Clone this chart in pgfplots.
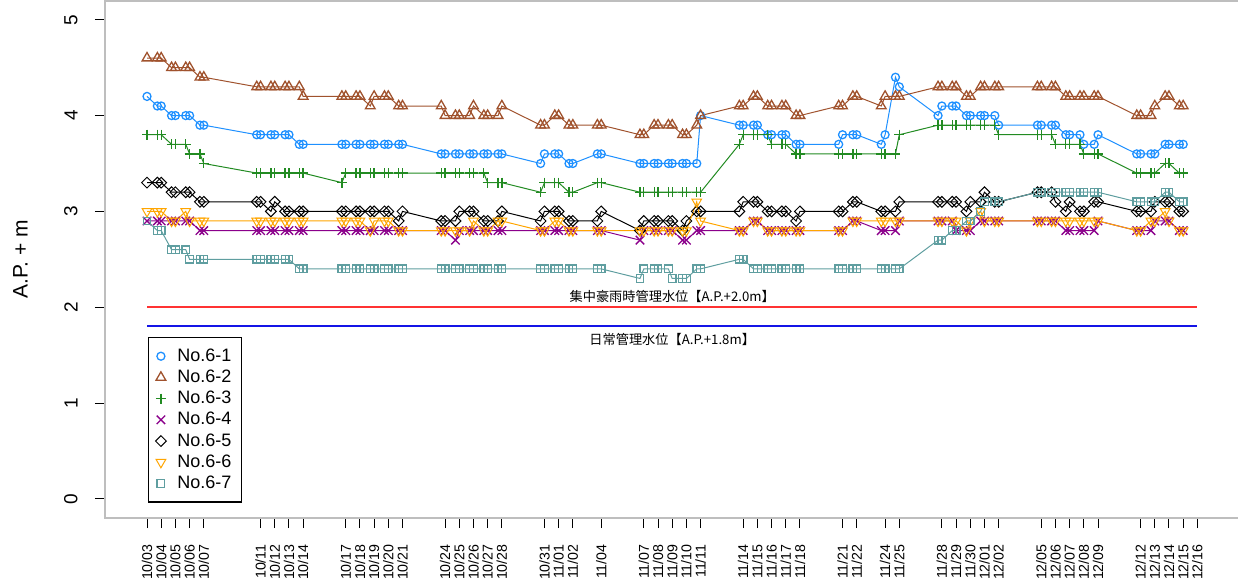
\documentclass[border=0pt]{standalone}
\usepackage{pgfplots}
\pgfplotsset{compat=1.18}
\usepackage{pgfplotstable}
\usepackage{fontspec}
\setmainfont{Liberation Sans}
\newfontfamily\cjk{Noto Sans CJK JP}

\definecolor{c1}{RGB}{30,144,255}
\definecolor{c2}{RGB}{160,82,45}
\definecolor{c3}{RGB}{34,139,34}
\definecolor{c4}{RGB}{139,0,139}
\definecolor{c5}{RGB}{0,0,0}
\definecolor{c6}{RGB}{255,165,0}
\definecolor{c7}{RGB}{95,158,160}
\definecolor{boxgray}{RGB}{190,190,190}
\definecolor{linered}{RGB}{255,50,50}
\definecolor{lineblue}{RGB}{20,20,230}

% x = days since 10/03, two readings a day
\pgfplotstableread{
x s1 s2 s3 s4 s5 s6 s7
0 4.2 4.6 3.8 2.9 3.3 3.0 2.9
0.73 4.1 4.6 3.8 2.9 3.3 3.0 2.8
1 4.1 4.6 3.8 2.9 3.3 3.0 2.8
1.73 4.0 4.5 3.7 2.9 3.2 2.9 2.6
2 4.0 4.5 3.7 2.9 3.2 2.9 2.6
2.73 4.0 4.5 3.7 2.9 3.2 3.0 2.6
3 4.0 4.5 3.6 2.9 3.2 2.9 2.5
3.73 3.9 4.4 3.6 2.8 3.1 2.9 2.5
4 3.9 4.4 3.5 2.8 3.1 2.9 2.5
7.73 3.8 4.3 3.4 2.8 3.1 2.9 2.5
8 3.8 4.3 3.4 2.8 3.1 2.9 2.5
8.73 3.8 4.3 3.4 2.8 3.0 2.9 2.5
9 3.8 4.3 3.4 2.8 3.1 2.9 2.5
9.73 3.8 4.3 3.4 2.8 3.0 2.9 2.5
10 3.8 4.3 3.4 2.8 3.0 2.9 2.5
10.73 3.7 4.3 3.4 2.8 3.0 2.9 2.4
11 3.7 4.2 3.4 2.8 3.0 2.9 2.4
13.73 3.7 4.2 3.3 2.8 3.0 2.9 2.4
14 3.7 4.2 3.4 2.8 3.0 2.9 2.4
14.73 3.7 4.2 3.4 2.8 3.0 2.9 2.4
15 3.7 4.2 3.4 2.8 3.0 2.9 2.4
15.73 3.7 4.1 3.4 2.8 3.0 2.8 2.4
16 3.7 4.2 3.4 2.8 3.0 2.9 2.4
16.73 3.7 4.2 3.4 2.8 3.0 2.9 2.4
17 3.7 4.2 3.4 2.8 3.0 2.9 2.4
17.73 3.7 4.1 3.4 2.8 2.9 2.8 2.4
18 3.7 4.1 3.4 2.8 3.0 2.8 2.4
20.73 3.6 4.1 3.4 2.8 2.9 2.8 2.4
21 3.6 4.0 3.4 2.8 2.9 2.8 2.4
21.73 3.6 4.0 3.4 2.7 2.9 2.8 2.4
22 3.6 4.0 3.4 2.8 3.0 2.8 2.4
22.73 3.6 4.0 3.4 2.8 3.0 2.8 2.4
23 3.6 4.1 3.4 2.8 3.0 2.9 2.4
23.73 3.6 4.0 3.4 2.8 2.9 2.8 2.4
24 3.6 4.0 3.3 2.8 2.9 2.8 2.4
24.73 3.6 4.0 3.3 2.8 2.9 2.9 2.4
25 3.6 4.1 3.3 2.8 3.0 2.9 2.4
27.73 3.5 3.9 3.2 2.8 2.9 2.8 2.4
28 3.6 3.9 3.3 2.8 3.0 2.8 2.4
28.73 3.6 4.0 3.3 2.8 3.0 2.9 2.4
29 3.6 4.0 3.3 2.8 3.0 2.9 2.4
29.73 3.5 3.9 3.2 2.8 2.9 2.8 2.4
30 3.5 3.9 3.2 2.8 2.9 2.8 2.4
31.73 3.6 3.9 3.3 2.8 2.9 2.8 2.4
32 3.6 3.9 3.3 2.8 3.0 2.8 2.4
34.73 3.5 3.8 3.2 2.7 2.8 2.8 2.3
35 3.5 3.8 3.2 2.8 2.9 2.8 2.4
35.73 3.5 3.9 3.2 2.8 2.9 2.8 2.4
36 3.5 3.9 3.2 2.8 2.9 2.8 2.4
36.73 3.5 3.9 3.2 2.8 2.9 2.8 2.4
37 3.5 3.9 3.2 2.8 2.9 2.8 2.3
37.73 3.5 3.8 3.2 2.7 2.8 2.8 2.3
38 3.5 3.8 3.2 2.7 2.9 2.8 2.3
38.73 3.5 3.9 3.2 2.8 3.0 3.1 2.4
39 4.0 4.0 3.2 2.8 3.0 2.9 2.4
41.73 3.9 4.1 3.7 2.8 3.0 2.8 2.5
42 3.9 4.1 3.8 2.8 3.1 2.8 2.5
42.73 3.9 4.2 3.8 2.9 3.1 2.9 2.4
43 3.9 4.2 3.8 2.9 3.1 2.9 2.4
43.73 3.8 4.1 3.8 2.8 3.0 2.8 2.4
44 3.8 4.1 3.7 2.8 3.0 2.8 2.4
44.73 3.8 4.1 3.7 2.8 3.0 2.8 2.4
45 3.8 4.1 3.7 2.8 3.0 2.8 2.4
45.73 3.7 4.0 3.6 2.8 2.9 2.8 2.4
46 3.7 4.0 3.6 2.8 3.0 2.8 2.4
48.73 3.7 4.1 3.6 2.8 3.0 2.8 2.4
49 3.8 4.1 3.6 2.8 3.0 2.8 2.4
49.73 3.8 4.2 3.6 2.9 3.1 2.9 2.4
50 3.8 4.2 3.6 2.9 3.1 2.9 2.4
51.73 3.7 4.1 3.6 2.8 3.0 2.9 2.4
52 3.8 4.2 3.6 2.8 3.0 2.9 2.4
52.73 4.4 4.2 3.6 2.8 3.0 2.9 2.4
53 4.3 4.2 3.8 2.9 3.1 2.9 2.4
55.73 4.0 4.3 3.9 2.9 3.1 2.9 2.7
56 4.1 4.3 3.9 2.9 3.1 2.9 2.7
56.73 4.1 4.3 3.9 2.9 3.1 2.9 2.8
57 4.1 4.3 3.9 2.8 3.1 2.9 2.8
57.73 4.0 4.2 3.9 2.8 3.0 2.8 2.9
58 4.0 4.2 3.9 2.8 3.1 2.9 2.9
58.73 4.0 4.3 3.9 2.9 3.1 3.0 3.0
59 4.0 4.3 3.9 2.9 3.2 2.9 3.1
59.73 4.0 4.3 3.9 2.9 3.1 2.9 3.1
60 3.9 4.3 3.8 2.9 3.1 2.9 3.1
62.73 3.9 4.3 3.8 2.9 3.2 2.9 3.2
63 3.9 4.3 3.8 2.9 3.2 2.9 3.2
63.73 3.9 4.3 3.8 2.9 3.2 2.9 3.2
64 3.9 4.3 3.7 2.9 3.1 2.9 3.2
64.73 3.8 4.2 3.7 2.8 3.0 2.9 3.2
65 3.8 4.2 3.7 2.8 3.1 2.9 3.2
65.73 3.8 4.2 3.7 2.8 3.0 2.9 3.2
66 3.7 4.2 3.6 2.8 3.0 2.9 3.2
66.73 3.7 4.2 3.6 2.8 3.1 2.9 3.2
67 3.8 4.2 3.6 2.9 3.1 2.9 3.2
69.73 3.6 4.0 3.4 2.8 3.0 2.8 3.1
70 3.6 4.0 3.4 2.8 3.0 2.8 3.1
70.73 3.6 4.0 3.4 2.8 3.0 2.9 3.1
71 3.6 4.1 3.4 2.9 3.1 2.9 3.1
71.73 3.7 4.2 3.5 2.9 3.1 3.0 3.2
72 3.7 4.2 3.5 2.9 3.1 2.9 3.2
72.73 3.7 4.1 3.4 2.8 3.0 2.8 3.1
73 3.7 4.1 3.4 2.8 3.0 2.8 3.1
}\wl

\pgfplotsset{
  legend image code/.code={%
    \path (0pt,0pt) (9pt,0pt);
    \draw[#1,only marks] plot coordinates {(3pt,0pt)};},
  wl/.style={line width=0.5pt, mark options={solid, line width=0.65pt}},
}

\begin{document}
\begin{tikzpicture}
\useasboundingbox (-52.5pt,-33pt) rectangle (566.5pt,259pt);
\clip (-52.5pt,-33pt) rectangle (566.5pt,259pt);
\begin{axis}[
  scale only axis,
  width=567.2pt, height=258.7pt,
  xmin=-2.96, xmax=76.96, ymin=-0.2, ymax=5.2,
  axis line style={boxgray, line width=1pt},
  tick style={black, line width=0.5pt},
  major tick length=5pt,
  tick align=outside,
  xtick pos=bottom, ytick pos=left,
  xtick={0,1,2,3,4,8,9,10,11,14,15,16,17,18,21,22,23,24,25,28,29,30,32,35,36,37,38,39,42,43,44,45,46,49,50,52,53,56,57,58,59,60,63,64,65,66,67,70,71,72,73,74},
  xticklabels={10/03,10/04,10/05,10/06,10/07,10/11,10/12,10/13,10/14,10/17,10/18,10/19,10/20,10/21,10/24,10/25,10/26,10/27,10/28,10/31,11/01,11/02,11/04,11/07,11/08,11/09,11/10,11/11,11/14,11/15,11/16,11/17,11/18,11/21,11/22,11/24,11/25,11/28,11/29,11/30,12/01,12/02,12/05,12/06,12/07,12/08,12/09,12/12,12/13,12/14,12/15,12/16},
  xticklabel style={rotate=90, anchor=east, inner sep=0pt, font=\fontsize{7.1}{8}\selectfont},
  xticklabel shift=8pt,
  ytick={0,1,2,3,4,5},
  yticklabels={0,1,2,3,4,5},
  yticklabel style={rotate=90, anchor=south, inner sep=0pt, font=\fontsize{9.5}{10}\selectfont},
  yticklabel shift=8.5pt,
  ylabel={A.P. + m},
  every axis y label/.style={at={(axis description cs:-0.0679,0.5)}, rotate=90, anchor=south, inner sep=0pt, font=\fontsize{10.5}{11}\selectfont},
  legend style={at={(axis cs:0.05,1.69)}, anchor=north west, draw=black, line width=0.7pt,
    inner xsep=3pt, inner ysep=4pt, row sep=0pt,
    font=\fontsize{9}{10}\selectfont,
    nodes={inner ysep=0.8pt, text height=7pt, text depth=2pt}},
  legend cell align=left,
]
\addplot[c1, wl, mark=o, mark size=2pt] table[x=x,y=s1]{\wl};
\addlegendentry{No.6-1}
\addplot[c2, wl, mark=triangle, mark size=2.8pt] table[x=x,y=s2]{\wl};
\addlegendentry{No.6-2}
\addplot[c3, wl, mark=+, mark size=2.5pt] table[x=x,y=s3]{\wl};
\addlegendentry{No.6-3}
\addplot[c4, wl, mark=x, mark size=3pt] table[x=x,y=s4]{\wl};
\addlegendentry{No.6-4}
\addplot[c5, wl, mark=square, mark size=1.9pt, mark options={rotate=45}] table[x=x,y=s5]{\wl};
\addlegendentry{No.6-5}
\addplot[c6, wl, mark=triangle, mark size=2.8pt, mark options={rotate=180}] table[x=x,y=s6]{\wl};
\addlegendentry{No.6-6}
\addplot[c7, wl, mark=square, mark size=1.9pt] table[x=x,y=s7]{\wl};
\addlegendentry{No.6-7}
\addplot[linered, line width=1pt, forget plot] coordinates {(0,2.0) (74,2.0)};
\addplot[lineblue, line width=1pt, forget plot] coordinates {(0,1.8) (74,1.8)};
\node[font=\cjk\fontsize{6.6}{7}\selectfont] at (axis cs:37,2.11) {集中豪雨時管理水位【A.P.+2.0m】};
\node[font=\cjk\fontsize{6.6}{7}\selectfont] at (axis cs:37,1.66) {日常管理水位【A.P.+1.8m】};
\end{axis}
\end{tikzpicture}
\end{document}
